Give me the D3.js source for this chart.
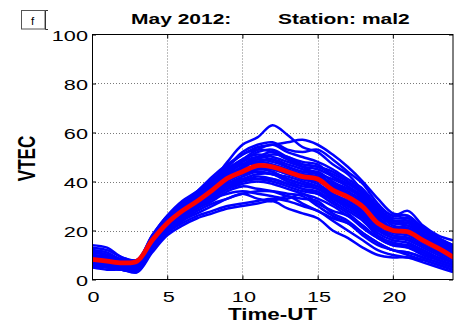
<!DOCTYPE html>
<html>
<head>
<meta charset="utf-8">
<script src="https://cdn.jsdelivr.net/npm/d3@7/dist/d3.min.js"></script>
<style>
  html, body { margin: 0; padding: 0; background: #fff; }
  svg { display: block; }
  text { font-family: "Liberation Sans", Arial, sans-serif; fill: #000; }
</style>
</head>
<body>
<svg id="chart" width="461" height="332"></svg>
<script>
// Hour of day (UT) for each sample
const hours = [0,1,2,3,4,5,6,7,8,9,10,11,12,13,14,15,16,17,18,19,20,21,22,23,24];

// Daily VTEC curves for May 2012, station mal2 (one row per day)
const dailyVTEC = [
  [10, 9, 7, 6, 15, 24, 30, 35, 40, 48, 55, 58, 63, 59, 54, 52, 47, 43, 36, 29, 24, 23, 19, 15, 12],
  [12, 11, 8, 7, 17, 25, 31, 36, 42, 47, 51, 54, 55, 56, 57, 55, 51, 46, 40, 33, 27, 26, 21, 17, 14],
  [14, 13, 9, 8, 18, 26, 32, 36, 41, 46, 52, 55, 56, 53, 52, 53, 49, 44, 39, 31, 26, 28, 22, 18, 16],
  [7, 6, 5, 5, 14, 22, 27, 31, 35, 40, 45, 49, 51, 50, 47, 46, 44, 40, 35, 27, 22, 21, 17, 13, 10],
  [9, 8, 7, 7, 17, 24, 29, 33, 38, 43, 48, 52, 53, 50, 48, 47, 42, 38, 33, 26, 21, 22, 18, 14, 11],
  [6, 6, 5, 4, 13, 20, 25, 29, 33, 37, 40, 42, 41, 39, 37, 35, 31, 27, 22, 17, 14, 13, 10, 8, 6],
  [5, 5, 4, 4, 12, 19, 24, 28, 31, 33, 35, 33, 32, 34, 31, 28, 25, 23, 18, 14, 12, 10, 8, 6, 4],
  [6, 5, 4, 3, 11, 18, 22, 25, 27, 29, 30, 31, 32, 29, 27, 25, 20, 17, 13, 10, 9, 9, 7, 5, 3],
  [8, 7, 6, 6, 15, 22, 27, 31, 36, 41, 43, 45, 44, 41, 39, 38, 34, 31, 27, 21, 18, 17, 14, 11, 8],
  [10, 9, 8, 7, 17, 24, 29, 33, 38, 42, 46, 48, 47, 45, 43, 42, 39, 35, 31, 25, 21, 21, 17, 14, 10],
  [7, 7, 6, 5, 14, 21, 26, 30, 34, 38, 41, 43, 43, 41, 39, 37, 34, 30, 26, 20, 17, 16, 13, 10, 7],
  [9, 8, 7, 6, 16, 23, 28, 32, 37, 42, 46, 49, 48, 46, 44, 44, 40, 37, 34, 27, 23, 22, 18, 14, 11],
  [11, 10, 8, 7, 17, 25, 30, 35, 40, 45, 49, 51, 50, 48, 46, 45, 42, 39, 35, 29, 24, 24, 20, 16, 12],
  [5, 5, 4, 4, 13, 21, 25, 29, 32, 36, 38, 37, 36, 34, 33, 32, 27, 24, 19, 15, 12, 11, 9, 7, 5],
  [8, 7, 6, 6, 16, 24, 29, 34, 39, 44, 47, 50, 52, 49, 46, 43, 38, 35, 31, 24, 20, 20, 16, 12, 9],
  [13, 12, 9, 8, 18, 26, 31, 35, 39, 43, 47, 47, 46, 44, 43, 42, 39, 37, 33, 27, 24, 24, 20, 16, 13],
  [6, 6, 5, 5, 14, 22, 26, 30, 34, 39, 42, 44, 43, 40, 38, 37, 33, 29, 25, 19, 16, 15, 12, 9, 7],
  [7, 6, 5, 5, 15, 23, 28, 32, 37, 42, 46, 48, 49, 47, 45, 43, 39, 36, 32, 25, 20, 19, 16, 12, 9],
  [9, 8, 7, 6, 16, 23, 28, 32, 36, 39, 41, 41, 40, 38, 36, 35, 33, 30, 26, 21, 18, 17, 14, 11, 9],
  [8, 7, 6, 6, 15, 22, 27, 30, 33, 35, 36, 35, 34, 33, 35, 31, 28, 26, 21, 17, 15, 13, 11, 8, 6],
  [10, 9, 7, 7, 16, 24, 29, 34, 40, 46, 51, 53, 52, 49, 47, 46, 43, 40, 36, 29, 25, 25, 21, 17, 13],
  [6, 5, 4, 4, 12, 20, 24, 27, 30, 33, 35, 36, 36, 35, 34, 30, 26, 23, 19, 15, 12, 11, 9, 7, 5],
  [12, 10, 8, 7, 17, 25, 30, 34, 39, 44, 48, 50, 49, 46, 44, 43, 41, 38, 34, 28, 23, 23, 19, 15, 12],
  [7, 7, 6, 5, 14, 22, 27, 31, 35, 40, 43, 45, 46, 44, 41, 39, 35, 31, 27, 21, 17, 17, 14, 11, 8],
  [5, 4, 4, 3, 12, 19, 23, 26, 28, 30, 31, 32, 33, 32, 30, 28, 24, 20, 16, 12, 10, 9, 8, 6, 4],
  [9, 8, 7, 6, 16, 24, 29, 33, 38, 43, 45, 46, 45, 43, 41, 40, 37, 34, 30, 24, 20, 19, 16, 13, 10],
  [8, 8, 6, 6, 15, 23, 28, 32, 36, 40, 43, 44, 43, 42, 40, 38, 35, 32, 28, 22, 19, 18, 15, 12, 9],
  [11, 10, 8, 7, 16, 24, 30, 34, 38, 41, 44, 45, 45, 43, 42, 41, 37, 33, 29, 23, 20, 20, 17, 13, 10],
  [6, 6, 5, 4, 13, 21, 26, 30, 34, 37, 39, 40, 39, 37, 35, 33, 30, 26, 22, 17, 14, 14, 11, 8, 6],
  [10, 9, 7, 6, 15, 23, 29, 34, 39, 45, 49, 53, 55, 52, 50, 48, 45, 41, 37, 30, 26, 26, 21, 17, 14],
  [7, 6, 5, 5, 14, 22, 27, 31, 35, 38, 40, 41, 41, 39, 37, 36, 32, 28, 24, 18, 15, 14, 12, 9, 7]
];

// Monthly mean VTEC curve
const meanVTEC = [8.2, 7.5, 6.8, 7.5, 16, 23, 28, 32, 36.5, 41.3, 44, 46.5, 46, 44, 42, 41, 36.5, 33.7, 29.7, 23, 20, 19.5, 16, 12.8, 9.2];

const xTicks = [0, 5, 10, 15, 20];
const yTicks = [0, 20, 40, 60, 80, 100];

const titleLeft = "May 2012:";
const titleRight = "Station: mal2";
const xLabel = "Time-UT";
const yLabel = "VTEC";
const panelTag = "f";

// ---- layout ----
const svg = d3.select("#chart");
const plot = { left: 92, right: 453, top: 34.5, bottom: 279.5 };
const stretch = 1.4; // horizontal stretch applied to all lettering

const x = d3.scaleLinear().domain([0, 24]).range([plot.left, plot.right]);
const y = d3.scaleLinear().domain([0, 100]).range([plot.bottom, plot.top]);

svg.append("defs").append("clipPath").attr("id", "plotClip")
  .append("rect")
  .attr("x", plot.left).attr("y", plot.top)
  .attr("width", plot.right - plot.left).attr("height", plot.bottom - plot.top);

// dotted grid
const grid = svg.append("g").attr("stroke", "#7a7a7a").attr("stroke-width", 1)
  .attr("stroke-dasharray", "1,2");
grid.selectAll("line.gx").data(xTicks.filter(d => d > 0)).join("line")
  .attr("x1", d => Math.round(x(d)) + 0.5).attr("x2", d => Math.round(x(d)) + 0.5)
  .attr("y1", plot.top).attr("y2", plot.bottom);
grid.selectAll("line.gy").data(yTicks.filter(d => d > 0 && d < 100)).join("line")
  .attr("y1", d => Math.round(y(d)) + 0.5).attr("y2", d => Math.round(y(d)) + 0.5)
  .attr("x1", plot.left).attr("x2", plot.right);

// daily curves and mean
const line = d3.line().x((d, i) => x(hours[i])).y(d => y(d)).curve(d3.curveCatmullRom.alpha(0.5));
const curves = svg.append("g").attr("clip-path", "url(#plotClip)");
curves.selectAll("path.day").data(dailyVTEC).join("path")
  .attr("class", "day")
  .attr("d", line)
  .attr("fill", "none").attr("stroke", "#0000ff").attr("stroke-width", 2.5)
  .attr("stroke-linejoin", "round");
curves.append("path").datum(meanVTEC)
  .attr("d", line)
  .attr("fill", "none").attr("stroke", "#ff0000").attr("stroke-width", 4.8)
  .attr("stroke-linejoin", "round").attr("stroke-linecap", "round");

// axes: inward ticks on all four sides
const tick = 4;
const axB = svg.append("g").attr("transform", `translate(0,${plot.bottom})`)
  .call(d3.axisBottom(x).tickValues(xTicks).tickSizeInner(-tick).tickSizeOuter(0).tickFormat(d3.format("d")));
const axT = svg.append("g").attr("transform", `translate(0,${plot.top})`)
  .call(d3.axisTop(x).tickValues(xTicks).tickSizeInner(-tick).tickSizeOuter(0).tickFormat(""));
const axL = svg.append("g").attr("transform", `translate(${plot.left},0)`)
  .call(d3.axisLeft(y).tickValues(yTicks).tickSizeInner(-tick).tickSizeOuter(0).tickFormat(d3.format("d")));
const axR = svg.append("g").attr("transform", `translate(${plot.right},0)`)
  .call(d3.axisRight(y).tickValues(yTicks).tickSizeInner(-tick).tickSizeOuter(0).tickFormat(""));
[axB, axT, axL, axR].forEach(a => {
  a.select(".domain").remove();
  a.selectAll(".tick line").attr("stroke", "#000");
});
axB.selectAll(".tick text")
  .attr("x", 0).attr("y", 0).attr("dy", null)
  .attr("text-anchor", "middle")
  .attr("transform", `translate(1,22) scale(${stretch},1)`)
  .style("font-size", "15.5px").attr("fill", "#000");
axL.selectAll(".tick text")
  .attr("x", 0).attr("y", 0).attr("dy", null)
  .attr("text-anchor", "end")
  .attr("transform", `translate(-4,5.6) scale(${stretch},1)`)
  .style("font-size", "15.5px").attr("fill", "#000");

// frame
svg.append("rect")
  .attr("x", plot.left + 0.5).attr("y", plot.top)
  .attr("width", plot.right - plot.left - 0.5).attr("height", plot.bottom - plot.top)
  .attr("fill", "none").attr("stroke", "#000").attr("stroke-width", 1);

// lettering helper: horizontally stretched text
function label(str, px, py, size, weight, anchor, rotate) {
  const g = svg.append("g")
    .attr("transform", `translate(${px},${py}) scale(${stretch},1)` + (rotate ? ` rotate(${rotate})` : ""));
  g.append("text").text(str)
    .attr("text-anchor", anchor)
    .style("font-size", size + "px").style("font-weight", weight);
  return g;
}

label(titleLeft, 131, 24, 15, "bold", "start");
label(titleRight, 278, 24, 15, "bold", "start");
label(xLabel, 272.5, 320, 16, "bold", "middle");
label(yLabel, 35, 158.5, 17, "bold", "middle", -90);

// panel tag box
svg.append("rect").attr("x", 21.5).attr("y", 10.5).attr("width", 23.5).attr("height", 18.5)
  .attr("fill", "#fff").attr("stroke", "#555").attr("stroke-width", 1);
svg.append("path").attr("d", "M45.5,10.5 V29.5 M45.5,10.5 H48 M45.5,29.5 H48")
  .attr("fill", "none").attr("stroke", "#333").attr("stroke-width", 1);
svg.append("text").text(panelTag)
  .attr("x", 32.5).attr("y", 25).attr("text-anchor", "middle")
  .style("font-size", "11.5px");
</script>
</body>
</html>
